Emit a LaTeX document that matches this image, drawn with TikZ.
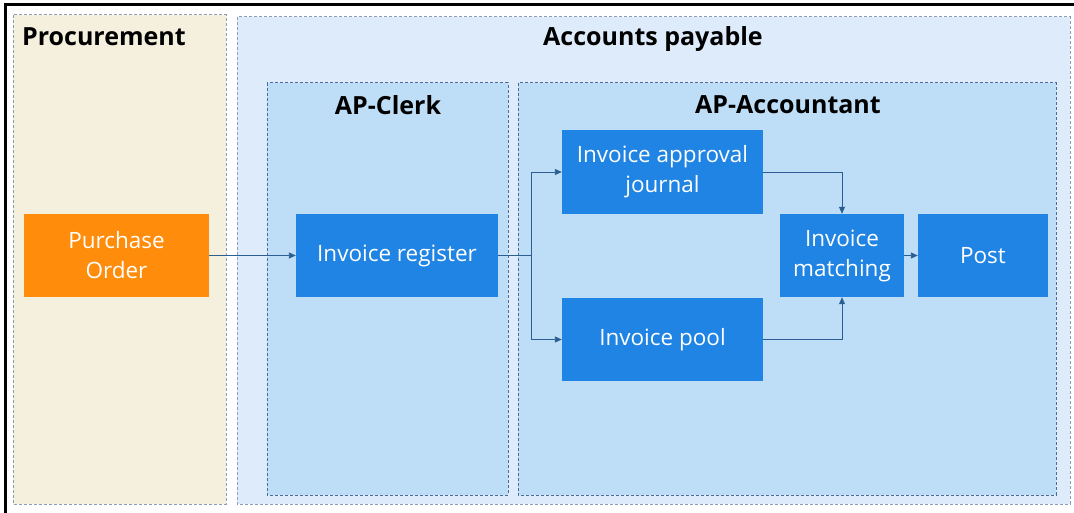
\documentclass[tikz,border=0pt]{standalone}
\usepackage{fontspec}
\setmainfont{Open Sans}
\usetikzlibrary{arrows.meta}
\definecolor{procfill}{HTML}{F5EFDD}
\definecolor{apfill}{HTML}{DEEBFA}
\definecolor{rolefill}{HTML}{BEDDF6}
\definecolor{stepblue}{HTML}{1F84E3}
\definecolor{poorange}{HTML}{FF8C0A}
\definecolor{flowline}{HTML}{2B5F93}
\definecolor{laneedge}{HTML}{8E9CB8}
\definecolor{roleedge}{HTML}{4D6A98}
\begin{document}
\begin{tikzpicture}[x=1pt,y=-1pt,
  lane/.style={draw=#1,line width=1pt,dash pattern=on 3pt off 2pt},
  title/.style={font=\fontsize{25}{30}\selectfont\bfseries,inner sep=0pt},
  stepbox/.style={fill=stepblue,text=white,align=center,inner sep=2pt,
    font=\fontsize{22.5}{30}\selectfont},
  flow/.style={draw=flowline,line width=0.9pt,-{Triangle[length=7pt,width=6pt]}}]
\useasboundingbox (0,0) rectangle (1074,513);
\draw[line width=3pt] (5,513) -- (5,5) -- (1074,5);
% lanes
\draw[lane=laneedge,fill=procfill] (13,15) rectangle (226,504);
\draw[lane=laneedge,fill=apfill] (237,17) rectangle (1070,504);
\draw[lane=roleedge,fill=rolefill] (267,83) rectangle (508,495);
\draw[lane=roleedge,fill=rolefill] (518,83) rectangle (1056,495);
\node[title,anchor=west] (proc) at (22,37) {Procurement};
\node[title] (ap) at (653,39) {Accounts payable};
\node[title] (clerk) at (388,105) {AP-Clerk};
\node[title] (acct) at (788,105) {AP-Accountant};
% steps
\node[stepbox,fill=poorange,minimum width=185pt,minimum height=83pt] (po) at (116.5,255.5) {Purchase\\Order};
\node[stepbox,minimum width=202pt,minimum height=83pt] (reg) at (397,255.5) {Invoice register};
\node[stepbox,minimum width=201pt,minimum height=84pt] (jour) at (662.5,172) {Invoice approval\\journal};
\node[stepbox,minimum width=201pt,minimum height=83pt] (pool) at (662.5,339.5) {Invoice pool};
\node[stepbox,minimum width=124pt,minimum height=83pt] (match) at (842,255.5) {Invoice\\matching};
\node[stepbox,minimum width=130pt,minimum height=83pt] (post) at (983,255.5) {Post};
\coordinate (split) at (531,255.5);
% flows
\draw[flow] (po) -- (reg);
\draw[draw=flowline,line width=0.9pt] (reg) -- (split);
\draw[flow] (split) |- (jour);
\draw[flow] (split) |- (pool);
\draw[flow] (jour) -| (match);
\draw[flow] (pool) -| (match);
\draw[flow] (match) -- (post);
\end{tikzpicture}
\end{document}
